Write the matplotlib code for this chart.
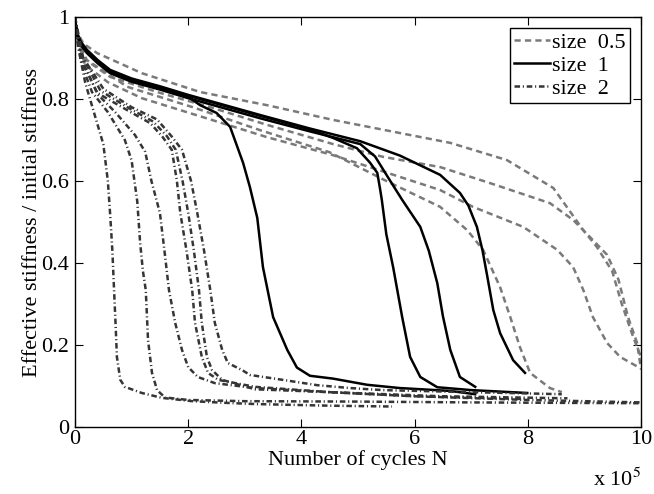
import numpy as np
import matplotlib
matplotlib.use('Agg')
import matplotlib.pyplot as plt

plt.rcParams['font.family'] = ['Liberation Serif', 'DejaVu Serif']
plt.rcParams['mathtext.fontset'] = 'stix'
plt.rcParams['lines.scale_dashes'] = False

# size 0.5 specimens (gray dashed), x in 1e5 cycles
d1_x = [0, 0.05, 0.15, 0.39, 1.18, 2.21, 3.39, 4.56, 5.74, 6.63, 7.63, 8.45, 8.98, 9.22, 9.49, 9.66, 9.86, 10.0]
d1_y = [1.0, 0.96, 0.935, 0.912, 0.863, 0.817, 0.785, 0.749, 0.717, 0.693, 0.651, 0.583, 0.48, 0.439, 0.38, 0.30, 0.22, 0.17]
d2_x = [0, 0.05, 0.14, 0.62, 1.5, 2.39, 3.39, 4.56, 5.44, 6.45, 7.33, 8.39, 8.80, 9.10, 9.40, 9.60, 9.77, 9.93, 10.0]
d2_y = [1.0, 0.95, 0.90, 0.854, 0.815, 0.78, 0.737, 0.690, 0.659, 0.634, 0.595, 0.546, 0.505, 0.463, 0.42, 0.36, 0.268, 0.205, 0.14]
d3_x = [0, 0.05, 0.18, 0.58, 1.18, 2.3, 3.39, 4.56, 5.74, 6.45, 7.03, 7.92, 8.52, 8.80, 8.98, 9.15, 9.40, 9.63, 9.98]
d3_y = [1.0, 0.94, 0.883, 0.841, 0.802, 0.754, 0.707, 0.663, 0.61, 0.578, 0.537, 0.488, 0.432, 0.39, 0.334, 0.268, 0.205, 0.171, 0.144]
d4_x = [0, 0.05, 0.21, 0.92, 2.08, 3.27, 4.5, 5.5, 6.45, 6.93, 7.21, 7.51, 7.69, 7.86, 8.04, 8.39, 8.60]
d4_y = [1.0, 0.94, 0.895, 0.83, 0.78, 0.724, 0.67, 0.60, 0.537, 0.48, 0.432, 0.341, 0.268, 0.195, 0.132, 0.095, 0.085]

# size 1 specimens (black solid)
s1_x = [0, 0.03, 0.1, 0.21, 0.4, 0.62, 1.0, 1.5, 2.0, 2.21, 2.5, 2.74, 2.97, 3.09, 3.22, 3.32, 3.5, 3.75, 3.92, 4.15, 4.56, 5.16, 5.74, 6.63, 7.07]
s1_y = [1.0, 0.96, 0.935, 0.915, 0.89, 0.866, 0.845, 0.826, 0.805, 0.785, 0.766, 0.732, 0.644, 0.585, 0.51, 0.39, 0.268, 0.188, 0.145, 0.125, 0.118, 0.103, 0.095, 0.088, 0.080]
s2_x = [0, 0.03, 0.1, 0.21, 0.4, 0.62, 1.0, 1.5, 2.0, 2.39, 3.27, 4.15, 4.56, 4.98, 5.21, 5.34, 5.39, 5.42, 5.5, 5.62, 5.78, 5.92, 6.1, 6.4, 7.0, 7.99]
s2_y = [1.0, 0.962, 0.938, 0.918, 0.893, 0.869, 0.848, 0.829, 0.808, 0.793, 0.759, 0.726, 0.705, 0.68, 0.645, 0.62, 0.58, 0.554, 0.47, 0.39, 0.268, 0.171, 0.122, 0.097, 0.09, 0.083]
s3_x = [0, 0.03, 0.1, 0.21, 0.4, 0.62, 1.0, 1.5, 2.0, 2.39, 3.27, 4.15, 5.04, 5.3, 5.57, 5.78, 6.1, 6.25, 6.4, 6.5, 6.63, 6.8, 7.07]
s3_y = [1.0, 0.958, 0.932, 0.912, 0.887, 0.863, 0.842, 0.823, 0.802, 0.787, 0.753, 0.721, 0.69, 0.66, 0.60, 0.554, 0.488, 0.43, 0.351, 0.27, 0.188, 0.122, 0.098]
s4_x = [0, 0.03, 0.1, 0.21, 0.4, 0.62, 1.0, 1.5, 2.0, 2.39, 3.27, 4.15, 5.04, 5.74, 6.45, 6.8, 6.95, 7.1, 7.2, 7.28, 7.39, 7.51, 7.74, 7.95]
s4_y = [1.0, 0.963, 0.94, 0.92, 0.895, 0.871, 0.85, 0.831, 0.81, 0.795, 0.761, 0.728, 0.697, 0.662, 0.615, 0.571, 0.54, 0.488, 0.43, 0.37, 0.285, 0.229, 0.163, 0.132]

# size 2 specimens (dark dash-dot)
e1_x = [0, 0.05, 0.18, 0.35, 0.5, 0.58, 0.62, 0.66, 0.69, 0.72, 0.74, 0.8, 0.88, 1.18, 1.54, 2.07, 2.65, 3.18, 4.5, 5.6]
e1_y = [1.0, 0.93, 0.84, 0.76, 0.69, 0.60, 0.52, 0.43, 0.334, 0.24, 0.171, 0.115, 0.098, 0.083, 0.071, 0.063, 0.059, 0.056, 0.052, 0.05]
e2_x = [0, 0.12, 0.3, 0.58, 0.88, 1.0, 1.1, 1.15, 1.2, 1.25, 1.29, 1.36, 1.45, 1.59, 2.0, 3.0, 5.0, 7.0, 10.0]
e2_y = [1.0, 0.883, 0.817, 0.768, 0.70, 0.65, 0.55, 0.45, 0.38, 0.334, 0.212, 0.132, 0.09, 0.072, 0.066, 0.063, 0.062, 0.06, 0.058]
e3_x = [0, 0.18, 0.41, 0.71, 1.06, 1.24, 1.35, 1.5, 1.58, 1.66, 1.77, 1.89, 2.0, 2.17, 2.47, 3.18, 4.5, 6.0, 8.0]
e3_y = [1.0, 0.876, 0.81, 0.768, 0.712, 0.671, 0.60, 0.522, 0.43, 0.334, 0.254, 0.188, 0.146, 0.122, 0.107, 0.095, 0.085, 0.075, 0.068]
e4_x = [0, 0.1, 0.39, 0.92, 1.33, 1.55, 1.71, 1.8, 1.86, 1.97, 2.07, 2.12, 2.24, 2.35, 2.53, 3.18, 4.5, 6.0, 8.0, 10.0]
e4_y = [1.0, 0.9, 0.815, 0.773, 0.741, 0.707, 0.676, 0.60, 0.522, 0.43, 0.334, 0.254, 0.171, 0.132, 0.115, 0.098, 0.085, 0.075, 0.066, 0.06]
e5_x = [0, 0.1, 0.45, 0.95, 1.38, 1.62, 1.78, 1.9, 2.0, 2.1, 2.19, 2.24, 2.33, 2.42, 2.6, 3.18, 4.5, 6.5, 8.7]
e5_y = [1.0, 0.91, 0.82, 0.778, 0.745, 0.71, 0.676, 0.60, 0.522, 0.43, 0.334, 0.254, 0.171, 0.139, 0.115, 0.092, 0.085, 0.075, 0.07]
e6_x = [0, 0.1, 0.5, 1.0, 1.45, 1.7, 1.89, 2.05, 2.16, 2.28, 2.39, 2.47, 2.6, 2.7, 2.95, 3.09, 3.67, 4.28, 4.86, 5.44, 7.0, 8.6]
e6_y = [1.0, 0.91, 0.825, 0.78, 0.75, 0.71, 0.676, 0.60, 0.522, 0.43, 0.334, 0.254, 0.188, 0.156, 0.139, 0.127, 0.115, 0.102, 0.095, 0.09, 0.085, 0.08]

dashed = [(d1_x, d1_y), (d2_x, d2_y), (d3_x, d3_y), (d4_x, d4_y)]
solid = [(s1_x, s1_y), (s2_x, s2_y), (s3_x, s3_y), (s4_x, s4_y)]
dashdot = [(e1_x, e1_y), (e2_x, e2_y), (e3_x, e3_y), (e4_x, e4_y), (e5_x, e5_y), (e6_x, e6_y)]

fig = plt.figure(figsize=(6.54, 4.94), dpi=100)
ax = fig.add_axes([0.1147, 0.1356, 0.8655, 0.830])

dash_style = (0, (4.5, 3.0))
dashdot_style = (0, (4.0, 2.0, 0.8, 2.0))

for i, (x, y) in enumerate(dashed):
    ax.plot(x, y, color='#7a7a7a', lw=1.8, ls=dash_style,
            label='size  0.5' if i == 0 else None)
for i, (x, y) in enumerate(solid):
    ax.plot(x, y, color='black', lw=1.8, ls='-',
            label='size  1' if i == 0 else None)
for i, (x, y) in enumerate(dashdot):
    ax.plot(x, y, color='#353535', lw=1.8, ls=dashdot_style,
            label='size  2' if i == 0 else None)

ax.set_xlim(0, 10)
ax.set_ylim(0, 1)
ax.set_xticks([0, 2, 4, 6, 8, 10])
ax.set_yticks([0, 0.2, 0.4, 0.6, 0.8, 1])
ax.set_yticklabels(['0', '0.2', '0.4', '0.6', '0.8', '1'])
ax.tick_params(direction='in', length=6, width=0.8, top=True, right=True,
               labelsize=16, pad=2)
ax.tick_params(axis='y', pad=4)
for sp in ax.spines.values():
    sp.set_linewidth(1.0)

ax.set_xlabel('Number of cycles N', fontsize=16, labelpad=1)
ax.set_ylabel('Effective stiffness / initial stiffness', fontsize=16, labelpad=0)
ax.text(1.0, -0.1, r'x 10$^{5}$', transform=ax.transAxes, ha='right', va='top',
        fontsize=16)

leg = ax.legend(loc='upper right', fontsize=16, handlelength=1.6, handletextpad=0.1,
                borderpad=0.2, labelspacing=0.1, fancybox=False, framealpha=1,
                edgecolor='black', borderaxespad=0.5)
leg.get_frame().set_linewidth(1.0)

fig.savefig('out.png', dpi=100)
